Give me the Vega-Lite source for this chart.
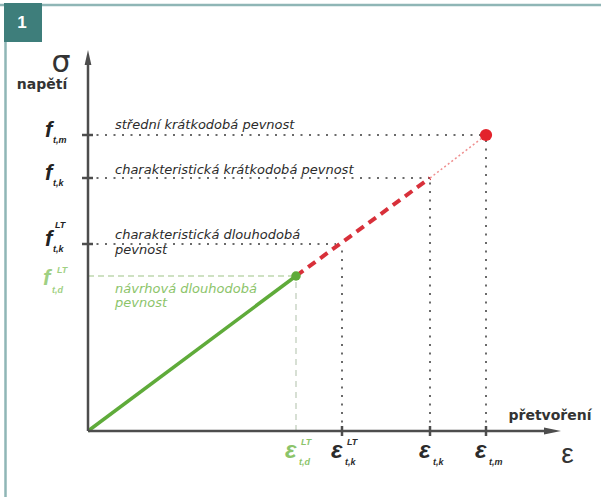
{
  "$schema": "https://vega.github.io/schema/vega-lite/v6.json",
  "width": 475,
  "height": 381,
  "autosize": {"type": "none"},
  "padding": {"left": 88, "top": 50, "right": 38, "bottom": 66},
  "background": "white",
  "config": {"view": {"stroke": null}},
  "datasets": {
    "seg": [
      {"x": -88, "y": 426, "x2": 513, "y2": 426, "k": "frame"},
      {"x": -82.5, "y": -66, "x2": -82.5, "y2": 426, "k": "frame"},
      {"x": -84, "y": 428, "x2": -46, "y2": 389, "k": "box"},
      {"x": 0, "y": 296, "x2": 398, "y2": 296, "k": "dot"},
      {"x": 0, "y": 253, "x2": 342, "y2": 253, "k": "dot"},
      {"x": 0, "y": 187, "x2": 248, "y2": 187, "k": "dot"},
      {"x": 398, "y": 0, "x2": 398, "y2": 296, "k": "dot"},
      {"x": 342, "y": 0, "x2": 342, "y2": 253, "k": "dot"},
      {"x": 254, "y": 0, "x2": 254, "y2": 182, "k": "dot"},
      {"x": 0, "y": 155, "x2": 208, "y2": 155, "k": "gdash"},
      {"x": 208, "y": 0, "x2": 208, "y2": 155, "k": "gvert"},
      {"x": 0, "y": 0, "x2": 208, "y2": 155, "k": "gline"},
      {"x": 208, "y": 155, "x2": 342, "y2": 253, "k": "rdash"},
      {"x": 342, "y": 253, "x2": 398, "y2": 296, "k": "rdot"},
      {"x": -6, "y": 296, "x2": 5, "y2": 296, "k": "tick"},
      {"x": -6, "y": 253, "x2": 5, "y2": 253, "k": "tick"},
      {"x": -6, "y": 187, "x2": 5, "y2": 187, "k": "tick"},
      {"x": 254, "y": -5, "x2": 254, "y2": 5, "k": "tick"},
      {"x": 342, "y": -5, "x2": 342, "y2": 5, "k": "tick"},
      {"x": 398, "y": -5, "x2": 398, "y2": 5, "k": "tick"},
      {"x": 0, "y": 0, "x2": 0, "y2": 370, "k": "axis"},
      {"x": 0, "y": 0, "x2": 462, "y2": 0, "k": "axis"}
    ],
    "pts": [
      {"x": 208, "y": 155, "k": "green"},
      {"x": 398, "y": 296, "k": "red"},
      {"x": 0, "y": 373.5, "k": "up"},
      {"x": 464.5, "y": 0, "k": "right"}
    ],
    "ann": [
      {"x": 27, "y": 302, "t": "střední krátkodobá pevnost", "k": "b"},
      {"x": 27, "y": 257, "t": "charakteristická krátkodobá pevnost", "k": "b"},
      {"x": 27, "y": 192, "t": "charakteristická dlouhodobá", "k": "b"},
      {"x": 27, "y": 177, "t": "pevnost", "k": "b"},
      {"x": 27, "y": 138, "t": "návrhová dlouhodobá", "k": "g"},
      {"x": 27, "y": 124, "t": "pevnost", "k": "g"}
    ],
    "lbl": [
      {"x": -66, "y": 408, "t": "1", "k": "num"},
      {"x": -27, "y": 359, "t": "σ", "k": "sigma"},
      {"x": -46, "y": 342, "t": "napětí", "k": "word"},
      {"x": 462, "y": 11, "t": "přetvoření", "k": "word"},
      {"x": 479.5, "y": -32, "t": "ε", "k": "eps"}
    ],
    "ylab": [
      {"y": 296, "sub": "t,m", "sup": ""},
      {"y": 253, "sub": "t,k", "sup": ""},
      {"y": 187, "sub": "t,k", "sup": "LT"}
    ],
    "ylabg": [
      {"y": 155, "sub": "t,d", "sup": "LT"}
    ],
    "xlab": [
      {"x": 254, "sub": "t,k", "sup": "LT", "k": "b"},
      {"x": 342, "sub": "t,k", "sup": "", "k": "b"},
      {"x": 398, "sub": "t,m", "sup": "", "k": "b"},
      {"x": 208, "sub": "t,d", "sup": "LT", "k": "g"}
    ]
  },
  "layer": [
    {
      "data": {"name": "seg"},
      "transform": [{"filter": "datum.k == 'frame'"}],
      "mark": {"type": "rule", "color": "#8fb6b6", "strokeWidth": 2.5},
      "encoding": {
        "x": {"field": "x", "type": "quantitative", "scale": {"domain": [0, 475], "nice": false, "zero": false}, "axis": null},
        "y": {"field": "y", "type": "quantitative", "scale": {"domain": [0, 381], "nice": false, "zero": false}, "axis": null},
        "x2": {"field": "x2"},
        "y2": {"field": "y2"}
      }
    },
    {
      "data": {"name": "seg"},
      "transform": [{"filter": "datum.k == 'box'"}],
      "mark": {"type": "rect", "color": "#3e7e7b"},
      "encoding": {
        "x": {"field": "x", "type": "quantitative", "scale": {"domain": [0, 475], "nice": false, "zero": false}, "axis": null},
        "y": {"field": "y", "type": "quantitative", "scale": {"domain": [0, 381], "nice": false, "zero": false}, "axis": null},
        "x2": {"field": "x2"},
        "y2": {"field": "y2"}
      }
    },
    {
      "data": {"name": "seg"},
      "transform": [{"filter": "datum.k == 'dot'"}],
      "mark": {"type": "rule", "color": "#6a6a6a", "strokeWidth": 2, "strokeDash": [2, 6.5]},
      "encoding": {
        "x": {"field": "x", "type": "quantitative", "scale": {"domain": [0, 475], "nice": false, "zero": false}, "axis": null},
        "y": {"field": "y", "type": "quantitative", "scale": {"domain": [0, 381], "nice": false, "zero": false}, "axis": null},
        "x2": {"field": "x2"},
        "y2": {"field": "y2"}
      }
    },
    {
      "data": {"name": "seg"},
      "transform": [{"filter": "datum.k == 'gdash'"}],
      "mark": {"type": "rule", "color": "#bfd8ae", "strokeWidth": 1.5, "strokeDash": [6, 4]},
      "encoding": {
        "x": {"field": "x", "type": "quantitative", "scale": {"domain": [0, 475], "nice": false, "zero": false}, "axis": null},
        "y": {"field": "y", "type": "quantitative", "scale": {"domain": [0, 381], "nice": false, "zero": false}, "axis": null},
        "x2": {"field": "x2"},
        "y2": {"field": "y2"}
      }
    },
    {
      "data": {"name": "seg"},
      "transform": [{"filter": "datum.k == 'gvert'"}],
      "mark": {"type": "rule", "color": "#c2cfbd", "strokeWidth": 1.3, "strokeDash": [6, 5]},
      "encoding": {
        "x": {"field": "x", "type": "quantitative", "scale": {"domain": [0, 475], "nice": false, "zero": false}, "axis": null},
        "y": {"field": "y", "type": "quantitative", "scale": {"domain": [0, 381], "nice": false, "zero": false}, "axis": null},
        "x2": {"field": "x2"},
        "y2": {"field": "y2"}
      }
    },
    {
      "data": {"name": "seg"},
      "transform": [{"filter": "datum.k == 'rdot'"}],
      "mark": {"type": "rule", "color": "#ef8f8f", "strokeWidth": 1.5, "strokeDash": [2, 2.5]},
      "encoding": {
        "x": {"field": "x", "type": "quantitative", "scale": {"domain": [0, 475], "nice": false, "zero": false}, "axis": null},
        "y": {"field": "y", "type": "quantitative", "scale": {"domain": [0, 381], "nice": false, "zero": false}, "axis": null},
        "x2": {"field": "x2"},
        "y2": {"field": "y2"}
      }
    },
    {
      "data": {"name": "seg"},
      "transform": [{"filter": "datum.k == 'rdash'"}],
      "mark": {"type": "rule", "color": "#d8303a", "strokeWidth": 4, "strokeDash": [9, 6]},
      "encoding": {
        "x": {"field": "x", "type": "quantitative", "scale": {"domain": [0, 475], "nice": false, "zero": false}, "axis": null},
        "y": {"field": "y", "type": "quantitative", "scale": {"domain": [0, 381], "nice": false, "zero": false}, "axis": null},
        "x2": {"field": "x2"},
        "y2": {"field": "y2"}
      }
    },
    {
      "data": {"name": "seg"},
      "transform": [{"filter": "datum.k == 'gline'"}],
      "mark": {"type": "rule", "color": "#5fab3a", "strokeWidth": 3.5},
      "encoding": {
        "x": {"field": "x", "type": "quantitative", "scale": {"domain": [0, 475], "nice": false, "zero": false}, "axis": null},
        "y": {"field": "y", "type": "quantitative", "scale": {"domain": [0, 381], "nice": false, "zero": false}, "axis": null},
        "x2": {"field": "x2"},
        "y2": {"field": "y2"}
      }
    },
    {
      "data": {"name": "seg"},
      "transform": [{"filter": "datum.k == 'tick' || datum.k == 'axis'"}],
      "mark": {"type": "rule", "color": "#4d4d4d", "strokeWidth": 2.5},
      "encoding": {
        "x": {"field": "x", "type": "quantitative", "scale": {"domain": [0, 475], "nice": false, "zero": false}, "axis": null},
        "y": {"field": "y", "type": "quantitative", "scale": {"domain": [0, 381], "nice": false, "zero": false}, "axis": null},
        "x2": {"field": "x2"},
        "y2": {"field": "y2"}
      }
    },
    {
      "data": {"name": "pts"},
      "transform": [{"filter": "datum.k == 'green'"}],
      "mark": {"type": "point", "filled": true, "shape": "circle", "size": 90, "color": "#5fab3a", "opacity": 1},
      "encoding": {
        "x": {"field": "x", "type": "quantitative", "scale": {"domain": [0, 475], "nice": false, "zero": false}, "axis": null},
        "y": {"field": "y", "type": "quantitative", "scale": {"domain": [0, 381], "nice": false, "zero": false}, "axis": null}
      }
    },
    {
      "data": {"name": "pts"},
      "transform": [{"filter": "datum.k == 'red'"}],
      "mark": {"type": "point", "filled": true, "shape": "circle", "size": 150, "color": "#e3232c", "opacity": 1},
      "encoding": {
        "x": {"field": "x", "type": "quantitative", "scale": {"domain": [0, 475], "nice": false, "zero": false}, "axis": null},
        "y": {"field": "y", "type": "quantitative", "scale": {"domain": [0, 381], "nice": false, "zero": false}, "axis": null}
      }
    },
    {
      "data": {"name": "pts"},
      "transform": [{"filter": "datum.k == 'up'"}],
      "mark": {"type": "point", "filled": true, "shape": "M0,-1L0.45,1L-0.45,1Z", "size": 225, "color": "#4d4d4d", "opacity": 1},
      "encoding": {
        "x": {"field": "x", "type": "quantitative", "scale": {"domain": [0, 475], "nice": false, "zero": false}, "axis": null},
        "y": {"field": "y", "type": "quantitative", "scale": {"domain": [0, 381], "nice": false, "zero": false}, "axis": null}
      }
    },
    {
      "data": {"name": "pts"},
      "transform": [{"filter": "datum.k == 'right'"}],
      "mark": {"type": "point", "filled": true, "shape": "M1,0L-1,0.4L-1,-0.4Z", "size": 289, "color": "#4d4d4d", "opacity": 1},
      "encoding": {
        "x": {"field": "x", "type": "quantitative", "scale": {"domain": [0, 475], "nice": false, "zero": false}, "axis": null},
        "y": {"field": "y", "type": "quantitative", "scale": {"domain": [0, 381], "nice": false, "zero": false}, "axis": null}
      }
    },
    {
      "data": {"name": "ann"},
      "mark": {"type": "text", "font": "DejaVu Sans", "fontStyle": "italic", "fontSize": 13, "align": "left", "baseline": "alphabetic"},
      "encoding": {
        "x": {"field": "x", "type": "quantitative", "scale": {"domain": [0, 475], "nice": false, "zero": false}, "axis": null},
        "y": {"field": "y", "type": "quantitative", "scale": {"domain": [0, 381], "nice": false, "zero": false}, "axis": null},
        "text": {"field": "t"},
        "color": {"field": "k", "type": "nominal", "scale": {"domain": ["b", "g"], "range": ["#2b2b2b", "#8cc46a"]}, "legend": null}
      }
    },
    {
      "data": {"name": "lbl"},
      "transform": [{"filter": "datum.k == 'num'"}],
      "mark": {"type": "text", "font": "Liberation Sans", "fontWeight": "bold", "fontSize": 17, "align": "center", "baseline": "middle", "color": "white"},
      "encoding": {
        "x": {"field": "x", "type": "quantitative", "scale": {"domain": [0, 475], "nice": false, "zero": false}, "axis": null},
        "y": {"field": "y", "type": "quantitative", "scale": {"domain": [0, 381], "nice": false, "zero": false}, "axis": null},
        "text": {"field": "t"}
      }
    },
    {
      "data": {"name": "lbl"},
      "transform": [{"filter": "datum.k == 'sigma'"}],
      "mark": {"type": "text", "font": "DejaVu Sans", "fontSize": 30, "align": "center", "baseline": "alphabetic", "color": "#333333"},
      "encoding": {
        "x": {"field": "x", "type": "quantitative", "scale": {"domain": [0, 475], "nice": false, "zero": false}, "axis": null},
        "y": {"field": "y", "type": "quantitative", "scale": {"domain": [0, 381], "nice": false, "zero": false}, "axis": null},
        "text": {"field": "t"}
      }
    },
    {
      "data": {"name": "lbl"},
      "transform": [{"filter": "datum.k == 'word'"}],
      "mark": {"type": "text", "font": "DejaVu Sans", "fontWeight": "bold", "fontSize": 14, "align": "center", "baseline": "alphabetic", "color": "#333333"},
      "encoding": {
        "x": {"field": "x", "type": "quantitative", "scale": {"domain": [0, 475], "nice": false, "zero": false}, "axis": null},
        "y": {"field": "y", "type": "quantitative", "scale": {"domain": [0, 381], "nice": false, "zero": false}, "axis": null},
        "text": {"field": "t"}
      }
    },
    {
      "data": {"name": "lbl"},
      "transform": [{"filter": "datum.k == 'eps'"}],
      "mark": {"type": "text", "font": "Liberation Sans", "fontSize": 28, "align": "center", "baseline": "alphabetic", "color": "#333333"},
      "encoding": {
        "x": {"field": "x", "type": "quantitative", "scale": {"domain": [0, 475], "nice": false, "zero": false}, "axis": null},
        "y": {"field": "y", "type": "quantitative", "scale": {"domain": [0, 381], "nice": false, "zero": false}, "axis": null},
        "text": {"field": "t"}
      }
    },
    {
      "data": {"name": "ylab"},
      "mark": {"type": "text", "font": "Liberation Sans", "fontStyle": "italic", "fontWeight": "bold", "fontSize": 22, "align": "left", "baseline": "alphabetic", "dy": 2, "color": "#222222"},
      "encoding": {
        "x": {"datum": -43, "type": "quantitative", "scale": {"domain": [0, 475], "nice": false, "zero": false}, "axis": null},
        "y": {"field": "y", "type": "quantitative", "scale": {"domain": [0, 381], "nice": false, "zero": false}, "axis": null},
        "text": {"value": "f"}
      }
    },
    {
      "data": {"name": "ylab"},
      "mark": {"type": "text", "font": "Liberation Sans", "fontStyle": "italic", "fontWeight": "bold", "fontSize": 9, "align": "left", "baseline": "alphabetic", "dy": 8, "color": "#222222"},
      "encoding": {
        "x": {"datum": -35, "type": "quantitative", "scale": {"domain": [0, 475], "nice": false, "zero": false}, "axis": null},
        "y": {"field": "y", "type": "quantitative", "scale": {"domain": [0, 381], "nice": false, "zero": false}, "axis": null},
        "text": {"field": "sub"}
      }
    },
    {
      "data": {"name": "ylab"},
      "mark": {"type": "text", "font": "Liberation Sans", "fontStyle": "italic", "fontWeight": "bold", "fontSize": 9, "align": "left", "baseline": "alphabetic", "dy": -16, "color": "#222222"},
      "encoding": {
        "x": {"datum": -33, "type": "quantitative", "scale": {"domain": [0, 475], "nice": false, "zero": false}, "axis": null},
        "y": {"field": "y", "type": "quantitative", "scale": {"domain": [0, 381], "nice": false, "zero": false}, "axis": null},
        "text": {"field": "sup"}
      }
    },
    {
      "data": {"name": "ylabg"},
      "mark": {"type": "text", "font": "Liberation Sans", "fontStyle": "italic", "fontWeight": "bold", "fontSize": 22, "align": "left", "baseline": "alphabetic", "dy": 9, "color": "#9fd083"},
      "encoding": {
        "x": {"datum": -45, "type": "quantitative", "scale": {"domain": [0, 475], "nice": false, "zero": false}, "axis": null},
        "y": {"field": "y", "type": "quantitative", "scale": {"domain": [0, 381], "nice": false, "zero": false}, "axis": null},
        "text": {"value": "f"}
      }
    },
    {
      "data": {"name": "ylabg"},
      "mark": {"type": "text", "font": "Liberation Sans", "fontStyle": "italic", "fontWeight": "bold", "fontSize": 9, "align": "left", "baseline": "alphabetic", "dy": 17, "color": "#9fd083"},
      "encoding": {
        "x": {"datum": -36, "type": "quantitative", "scale": {"domain": [0, 475], "nice": false, "zero": false}, "axis": null},
        "y": {"field": "y", "type": "quantitative", "scale": {"domain": [0, 381], "nice": false, "zero": false}, "axis": null},
        "text": {"field": "sub"}
      }
    },
    {
      "data": {"name": "ylabg"},
      "mark": {"type": "text", "font": "Liberation Sans", "fontStyle": "italic", "fontWeight": "bold", "fontSize": 9, "align": "left", "baseline": "alphabetic", "dy": -3, "color": "#9fd083"},
      "encoding": {
        "x": {"datum": -31, "type": "quantitative", "scale": {"domain": [0, 475], "nice": false, "zero": false}, "axis": null},
        "y": {"field": "y", "type": "quantitative", "scale": {"domain": [0, 381], "nice": false, "zero": false}, "axis": null},
        "text": {"field": "sup"}
      }
    },
    {
      "data": {"name": "xlab"},
      "mark": {"type": "text", "font": "Liberation Sans", "fontStyle": "italic", "fontWeight": "bold", "fontSize": 24, "align": "left", "baseline": "alphabetic", "dx": -11},
      "encoding": {
        "x": {"field": "x", "type": "quantitative", "scale": {"domain": [0, 475], "nice": false, "zero": false}, "axis": null},
        "y": {"datum": -27, "type": "quantitative", "scale": {"domain": [0, 381], "nice": false, "zero": false}, "axis": null},
        "text": {"value": "ε"},
        "color": {"field": "k", "type": "nominal", "scale": {"domain": ["b", "g"], "range": ["#222222", "#9fd083"]}, "legend": null}
      }
    },
    {
      "data": {"name": "xlab"},
      "mark": {"type": "text", "font": "Liberation Sans", "fontStyle": "italic", "fontWeight": "bold", "fontSize": 9, "align": "left", "baseline": "alphabetic", "dx": 3},
      "encoding": {
        "x": {"field": "x", "type": "quantitative", "scale": {"domain": [0, 475], "nice": false, "zero": false}, "axis": null},
        "y": {"datum": -34, "type": "quantitative", "scale": {"domain": [0, 381], "nice": false, "zero": false}, "axis": null},
        "text": {"field": "sub"},
        "color": {"field": "k", "type": "nominal", "scale": {"domain": ["b", "g"], "range": ["#222222", "#9fd083"]}, "legend": null}
      }
    },
    {
      "data": {"name": "xlab"},
      "mark": {"type": "text", "font": "Liberation Sans", "fontStyle": "italic", "fontWeight": "bold", "fontSize": 9, "align": "left", "baseline": "alphabetic", "dx": 5},
      "encoding": {
        "x": {"field": "x", "type": "quantitative", "scale": {"domain": [0, 475], "nice": false, "zero": false}, "axis": null},
        "y": {"datum": -14, "type": "quantitative", "scale": {"domain": [0, 381], "nice": false, "zero": false}, "axis": null},
        "text": {"field": "sup"},
        "color": {"field": "k", "type": "nominal", "scale": {"domain": ["b", "g"], "range": ["#222222", "#9fd083"]}, "legend": null}
      }
    }
  ]
}
